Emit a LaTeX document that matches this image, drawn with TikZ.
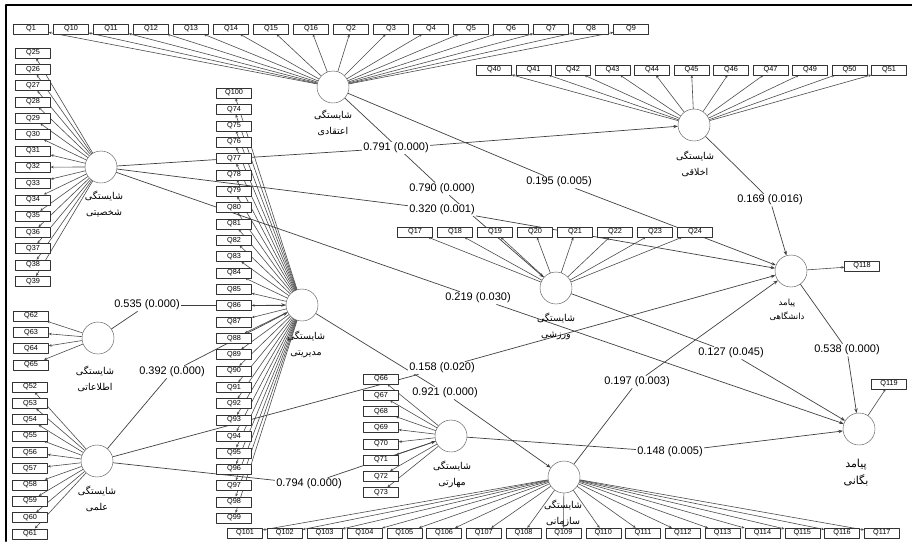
\documentclass[tikz,border=0pt]{standalone}
\usepackage{fontspec}
\setmainfont{Liberation Sans}
\newfontfamily\arabicfont[Script=Arabic]{DejaVu Sans}
\TeXXeTstate=1
\usetikzlibrary{arrows.meta}

\pgfdeclarelayer{bg}
\pgfsetlayers{bg,main}

\newcommand\lvname[2]{\beginR #1\endR\\\beginR #2\endR}

\tikzset{
  lv/.style={draw=black!70,circle,minimum size=32pt,inner sep=0pt,fill=white},
  ind/.style={draw=black!80,fill=white,minimum width=35pt,minimum height=10pt,
    inner sep=0pt,font=\fontsize{7.3}{8}\selectfont},
  ld/.style={draw=black!70,line width=.6pt,-{Stealth[length=3pt,width=2.6pt]}},
  pth/.style={draw=black!75,line width=.7pt},
  to lv/.style={pth,-{Stealth[length=4.5pt,width=3.4pt]}},
  coef/.style={fill=white,inner sep=1pt,font=\fontsize{11}{12}\selectfont},
  fa/.style={font=\arabicfont\fontsize{9.5}{16}\selectfont,align=center,inner sep=0pt},
}

\begin{document}
\begin{tikzpicture}[x=1pt,y=-1pt,line cap=round,line join=round]
  \useasboundingbox (0,0) rectangle (912,542);
  \draw[line width=2pt] (6,541) -- (6,5) -- (912,5);

  % latent variables
  \node[lv] (eteq) at (333,87) {};
  \node[lv] (akhl) at (694,125) {};
  \node[lv] (shakh) at (101,167) {};
  \node[lv] (modir) at (302,305) {};
  \node[lv] (etel) at (98,338) {};
  \node[lv] (elmi) at (97,461) {};
  \node[lv] (varz) at (556,288) {};
  \node[lv] (danesh) at (791,271) {};
  \node[lv] (bong) at (859,429) {};
  \node[lv] (mahar) at (451,436) {};
  \node[lv] (sazm) at (564,477) {};

  \node[fa] (eteqname) at (333,123) {\lvname{شایستگی}{اعتقادی}};
  \node[fa] (akhlname) at (695,164) {\lvname{شایستگی}{اخلاقی}};
  \node[fa] (shakhname) at (104,204) {\lvname{شایستگی}{شخصیتی}};
  \node[fa] (modirname) at (306,344) {\lvname{شایستگی}{مدیریتی}};
  \node[fa] (etelname) at (95,379) {\lvname{شایستگی}{اطلاعاتی}};
  \node[fa] (elminame) at (97,499) {\lvname{شایستگی}{علمی}};
  \node[fa] (varzname) at (556,326) {\lvname{شایستگی}{ورزشی}};
  \node[fa,font=\arabicfont\fontsize{8.5}{14}\selectfont] (daneshname) at (787,310) {\lvname{پیامد}{دانشگاهی}};
  \node[fa,font=\arabicfont\fontsize{11}{17}\selectfont] (bongname) at (856,473) {\lvname{پیامد}{بگانی}};
  \node[fa] (maharname) at (452,474) {\lvname{شایستگی}{مهارتی}};
  \node[fa] (sazmname) at (563,513) {\lvname{شایستگی}{سازمانی}};

  % indicators
  \foreach \q [count=\i from 0] in {1,10,11,12,13,14,15,16,2,3,4,5,6,7,8,9}
    \node[ind] (q\q) at (31+40*\i,29) {Q\q};
  \foreach \q [count=\i from 0] in {40,41,42,43,44,45,46,47,49,50,51}
    \node[ind] (q\q) at (494+39.5*\i,70) {Q\q};
  \foreach \q [count=\i from 0] in {25,...,39}
    \node[ind] (q\q) at (33,53+16.3*\i) {Q\q};
  \foreach \q [count=\i from 0] in {100,74,75,76,77,78,79,80,81,82,83,84,85,86,87,88,89,90,91,92,93,94,95,96,97,98,99}
    \node[ind] (q\q) at (234,93+16.35*\i) {Q\q};
  \foreach \q [count=\i from 0] in {62,63,64,65}
    \node[ind] (q\q) at (31,316+16.3*\i) {Q\q};
  \foreach \q [count=\i from 0] in {52,...,61}
    \node[ind] (q\q) at (30,387+16.3*\i) {Q\q};
  \foreach \q [count=\i from 0] in {17,...,24}
    \node[ind] (q\q) at (415+40*\i,232) {Q\q};
  \foreach \q [count=\i from 0] in {66,...,73}
    \node[ind] (q\q) at (381,379+16.2*\i) {Q\q};
  \foreach \q [count=\i from 0] in {101,...,117}
    \node[ind] (q\q) at (245+39.8*\i,533) {Q\q};
  \node[ind] (q118) at (862,266) {Q118};
  \node[ind] (q119) at (889,384) {Q119};

  % path coefficients
  \node[coef] (c791) at (396,148) {0.791 (0.000)};
  \node[coef] (c790) at (442,189) {0.790 (0.000)};
  \node[coef] (c320) at (442,210) {0.320 (0.001)};
  \node[coef] (c195) at (559,182) {0.195 (0.005)};
  \node[coef] (c169) at (770,200) {0.169 (0.016)};
  \node[coef] (c535) at (147,305) {0.535 (0.000)};
  \node[coef] (c392) at (172,372) {0.392 (0.000)};
  \node[coef] (c219) at (478,298) {0.219 (0.030)};
  \node[coef] (c158) at (442,368) {0.158 (0.020)};
  \node[coef] (c921) at (445,393) {0.921 (0.000)};
  \node[coef] (c127) at (731,353) {0.127 (0.045)};
  \node[coef] (c538) at (847,350) {0.538 (0.000)};
  \node[coef] (c197) at (637,382) {0.197 (0.003)};
  \node[coef] (c148) at (670,452) {0.148 (0.005)};
  \node[coef] (c794) at (309,484) {0.794 (0.000)};

  \begin{pgfonlayer}{bg}
    % measurement lines
    \foreach \q in {1,10,11,12,13,14,15,16,2,3,4,5,6,7,8,9}
      \draw[ld] (eteq) -- (q\q);
    \foreach \q in {40,41,42,43,44,45,46,47,49,50,51}
      \draw[ld] (akhl) -- (q\q);
    \foreach \q in {25,...,39}
      \draw[ld] (shakh) -- (q\q);
    \foreach \q in {100,74,75,76,77,78,79,80,81,82,83,84,85,86,87,88,89,90,91,92,93,94,95,96,97,98,99}
      \draw[ld] (modir) -- (q\q);
    \foreach \q in {62,...,65}
      \draw[ld] (etel) -- (q\q);
    \foreach \q in {52,...,61}
      \draw[ld] (elmi) -- (q\q);
    \foreach \q in {17,...,24}
      \draw[ld] (varz) -- (q\q);
    \foreach \q in {66,...,73}
      \draw[ld] (mahar) -- (q\q);
    \foreach \q in {101,...,117}
      \draw[ld] (sazm) -- (q\q);
    \draw[ld] (danesh) -- (q118);
    \draw[ld] (bong) -- (q119);

    % structural paths
    \draw[pth] (shakh) -- (c791); \draw[to lv] (c791) -- (akhl);
    \draw[pth] (eteq) -- (c790); \draw[to lv] (c790) -- (varz);
    \draw[pth] (shakh) -- (c320); \draw[to lv] (c320) -- (danesh);
    \draw[pth] (eteq) -- (c195); \draw[to lv] (c195) -- (danesh);
    \draw[pth] (akhl) -- (c169); \draw[to lv] (c169) -- (danesh);
    \draw[pth] (etel) -- (c535); \draw[to lv] (c535) -- (modir);
    \draw[pth] (elmi) -- (c392); \draw[to lv] (c392) -- (modir);
    \draw[pth] (shakh) -- (c219); \draw[to lv] (c219) -- (bong);
    \draw[pth] (elmi) -- (c158); \draw[to lv] (c158) -- (danesh);
    \draw[pth] (modir) -- (c921); \draw[to lv] (c921) -- (sazm);
    \draw[pth] (varz) -- (c127); \draw[to lv] (c127) -- (bong);
    \draw[pth] (danesh) -- (c538); \draw[to lv] (c538) -- (bong);
    \draw[pth] (sazm) -- (c197); \draw[to lv] (c197) -- (danesh);
    \draw[pth] (mahar) -- (c148); \draw[to lv] (c148) -- (bong);
    \draw[pth] (elmi) -- (c794); \draw[to lv] (c794) -- (mahar);
  \end{pgfonlayer}
\end{tikzpicture}
\end{document}
